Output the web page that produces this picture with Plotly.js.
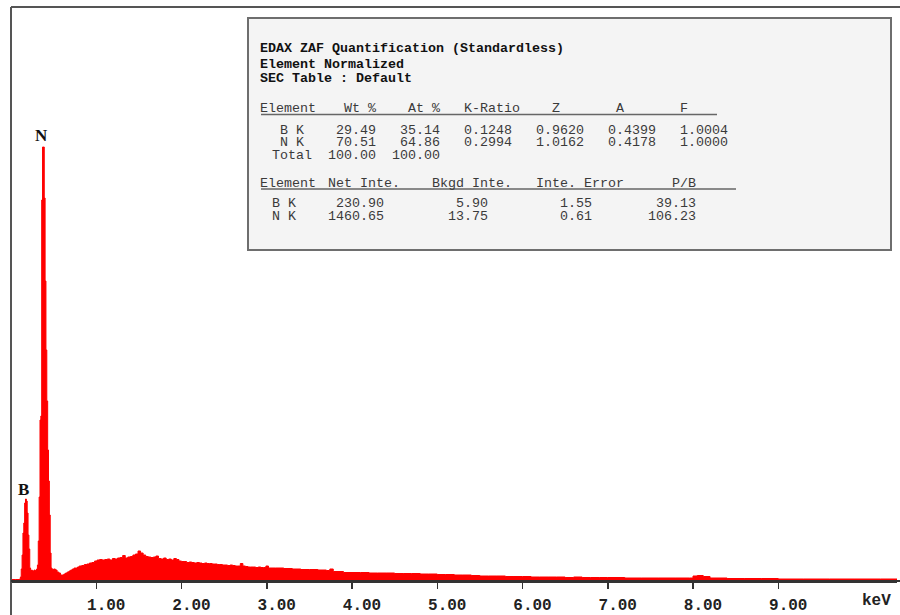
<!DOCTYPE html>
<html>
<head>
<meta charset="utf-8">
<script src="https://cdn.plot.ly/plotly-3.0.1.min.js"></script>
<style>html,body{margin:0;padding:0;background:#fff;}#chart{width:900px;height:615px;}</style>
</head>
<body>
<div id="chart"></div>
<script>
// ---- Spectrum data (energy in keV, counts in arbitrary units) ----
var energy = [0.00,0.05,0.10,0.11,0.12,0.13,0.14,0.15,0.16,0.17,0.18,0.19,0.20,0.21,0.22,0.23,0.24,0.25,0.26,0.27,0.28,0.29,
  0.30,0.31,0.32,0.33,0.34,0.35,0.36,0.37,0.38,0.39,0.40,0.41,0.42,0.43,0.44,0.45,0.46,0.47,0.48,0.49,
  0.50,0.52,0.54,0.56,0.58,0.60,0.62,0.64,0.66,0.68,0.70,0.72,0.74,0.76,0.78,0.80,0.83,0.86,0.89,0.92,0.95,0.98,
  1.01,1.04,1.07,1.10,1.13,1.16,1.19,1.22,1.25,1.28,1.31,1.34,1.37,1.40,1.43,1.46,1.49,1.52,1.55,1.58,1.61,1.64,1.67,1.70,
  1.73,1.76,1.79,1.82,1.85,1.88,1.91,1.94,1.97,2.00,2.03,2.06,2.09,2.12,2.15,2.18,2.21,2.24,2.27,2.30,2.33,2.36,2.39,
  2.42,2.45,2.48,2.51,2.54,2.57,2.60,2.63,2.66,2.69,2.72,2.75,2.78,2.81,2.84,2.87,2.90,2.93,2.96,2.99,3.02,
  3.10,3.20,3.30,3.40,3.50,3.60,3.70,3.74,3.78,3.90,4.00,4.10,4.20,4.30,4.40,4.50,4.60,4.70,4.80,4.90,
  5.00,5.10,5.20,5.30,5.40,5.50,5.60,5.70,5.80,5.90,6.00,6.10,6.20,6.30,6.40,6.50,6.60,6.70,6.80,6.90,
  7.00,7.20,7.40,7.60,7.80,7.96,8.00,8.05,8.12,8.20,8.40,8.60,8.80,9.00,9.30,9.60,9.90,10.20,10.40];
var counts = [1.5,1.5,2,4,12,26,48,58,78,82,80,68,46,32,13,10,11,10,10,11,10,11,
  12,16,40,84,161,165,381,434,434,383,300,231,180,131,100,66,28,13,12,11,
  12,11,9,8,6,6,7,8,9,10,11,12,13,13,14,15,15.5,16.5,17,18,18.5,20,
  21,21.5,21,21.5,22,21,22.5,22,23,23.5,25.5,23,24,24.5,26,27,30,28,26,24.5,24,23.5,24,25,
  22.5,22,23,21.5,22,21,22.5,21.5,20,19.5,19.5,18.5,19,18.5,18,18.5,18,17.5,18,17.5,17.5,17,17,
  16.5,16.5,16,16,15.5,16,15.5,15,15,17.5,15,14.5,14,14,14,13.5,14,13.5,13.5,15,13,
  13,12.5,12,11.5,11.5,11,10.5,12,9.5,8.5,8.5,8.5,8,8,8,7.5,7.5,7.5,7,7,
  6.5,6.5,6,6,5.5,5,5,5,4.5,4.5,4.5,4,4,4,4,3.5,4,3.5,3.5,3.5,
  3.5,3,3,3,3,3,5,5.5,4.5,3,2.5,2.5,2.5,2,2,2,2,2,2];

// ---- Axis ticks ----
var tickValues = [1,2,3,4,5,6,7,8,9];
var tickLabels = ["1.00","2.00","3.00","4.00","5.00","6.00","7.00","8.00","9.00"];

// ---- Peak labels ----
var peakNames = ["B","N"];
var peakEnergy = [0.15, 0.356];
var peakLabelY = [92, 446];

// ---- Quantification table text ----
var titleLines = ["EDAX ZAF Quantification (Standardless)", "Element Normalized", "SEC Table : Default"];
var table1Header = "Wt %    At %   K-Ratio    Z       A       F";
var table1Rows = ["  B K    29.49   35.14   0.1248   0.9620   0.4399   1.0004",
                  "  N K    70.51   64.86   0.2994   1.0162   0.4178   1.0000",
                  " Total  100.00  100.00"];
var table2Header = "Net Inte.    Bkgd Inte.   Inte. Error      P/B";
var table2Rows = [" B K     230.90         5.90         1.55        39.13",
                  " N K    1460.65        13.75         0.61       106.23"];

// ---- layout helpers (pixel -> paper) ----
var L = 11, R = 897, T = 7, B = 581;
function xp(px){ return (px - L) / (R - L); }
function yp(py){ return (B - py) / (B - T); }
function nb(s){ return s.replace(/ /g, '\u00a0'); }

var mono = "Liberation Mono, Courier New, monospace";
var CW = 8; // character advance in px
var annotations = [];
function addText(txt, px, py, opts){
  opts = opts || {};
  annotations.push({xref:'paper', yref:'paper', x: xp(px), y: yp(py), xanchor: opts.anchor || 'left', yanchor:'middle',
    text: nb(txt), showarrow:false, borderpad:0, borderwidth:0,
    font:{family: opts.family || mono, size: opts.size || 13.33, color: opts.color || '#3a3a3a', weight: opts.weight || 'normal'}});
}
var titleY = [48.3, 64.3, 78.3];
titleLines.forEach(function(t,i){ addText(t, 260, titleY[i], {weight:'bold', color:'#111'}); });
addText("Element", 260, 109);
addText(table1Header, 264 + 10*CW, 109);
var t1Y = [130, 142.7, 155.7];
table1Rows.forEach(function(t,i){ addText(t, 264, t1Y[i]); });
addText("Element", 260, 183.3);
addText(table2Header, 264 + 8*CW, 183.3);
var t2Y = [204, 216.7];
table2Rows.forEach(function(t,i){ addText(t, 264, t2Y[i]); });

peakNames.forEach(function(n,i){
  annotations.push({xref:'x', yref:'y', x: peakEnergy[i], y: peakLabelY[i], text: n, showarrow:false,
    xanchor:'center', yanchor:'middle',
    font:{family:'Liberation Serif, Times New Roman, serif', size:17, color:'#111', weight:'bold'}});
});
annotations.push({xref:'paper', yref:'paper', x: xp(876), y: yp(601), text:'keV', showarrow:false,
  xanchor:'center', yanchor:'middle', font:{family: mono, size:16, color:'#222', weight:'bold'}});

var shapes = [
  // quantification box
  {type:'rect', xref:'paper', yref:'paper', x0: xp(248), x1: xp(891), y0: yp(250), y1: yp(18),
   line:{color:'#6e6e6e', width:2}, fillcolor:'#f4f4f4', layer:'above'},
  // underlines
  {type:'line', xref:'paper', yref:'paper', x0: xp(261), x1: xp(717), y0: yp(114.5), y1: yp(114.5), line:{color:'#666', width:1.5}},
  {type:'line', xref:'paper', yref:'paper', x0: xp(261), x1: xp(736), y0: yp(189), y1: yp(189), line:{color:'#666', width:1.5}},
  // frame lines
  {type:'line', xref:'paper', yref:'paper', x0: 0, x1: 0, y0: yp(615), y1: 1, line:{color:'#555', width:2}},
  {type:'line', xref:'paper', yref:'paper', x0: 0, x1: xp(900), y0: 1, y1: 1, line:{color:'#555', width:2}},
  {type:'line', xref:'paper', yref:'paper', x0: 0, x1: xp(900), y0: 0, y1: 0, line:{color:'#333', width:2}}
];

var trace = {
  type:'scatter', mode:'lines', x: energy, y: counts,
  line:{color:'#ff0000', width:1, shape:'hv'}, fill:'tozeroy', fillcolor:'#ff0000',
  hoverinfo:'skip'
};

var layout = {
  width:900, height:615,
  margin:{l:L, r:900-R, t:T, b:615-B, pad:0},
  paper_bgcolor:'#ffffff', plot_bgcolor:'#ffffff',
  showlegend:false,
  xaxis:{range:[0, (R-L)/85.25], showgrid:false, zeroline:false, showline:true, linecolor:'#333', linewidth:2,
    ticks:'outside', ticklen:6, tickwidth:1.5, tickcolor:'#333',
    tickvals: tickValues, ticktext: tickLabels, ticklabelshift: 10, ticklabelstandoff: 2,
    tickfont:{family: mono, size:16, color:'#222', weight:'bold'}},
  yaxis:{range:[0, B-T], showgrid:false, zeroline:false, showline:false, showticklabels:false, ticks:''},
  annotations: annotations,
  shapes: shapes
};
Plotly.newPlot('chart', [trace], layout, {staticPlot:true, displayModeBar:false});
</script>
</body>
</html>
